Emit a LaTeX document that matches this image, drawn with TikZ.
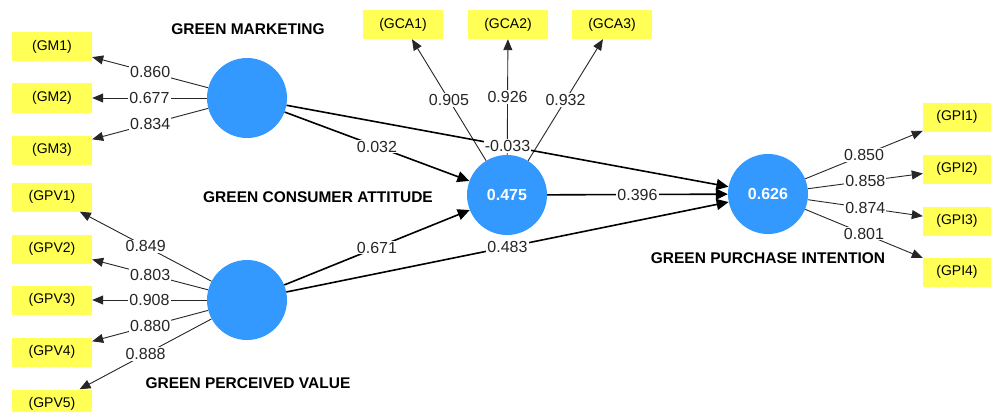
\documentclass[tikz,border=0pt]{standalone}
\usepackage{fontspec}
\setmainfont{Liberation Sans}
\usetikzlibrary{arrows.meta}
\definecolor{lvblue}{RGB}{51,153,255}
\definecolor{indyellow}{RGB}{255,255,85}
\begin{document}
\begin{tikzpicture}[x=1pt,y=-1pt,
  lv/.style={circle,fill=lvblue,minimum size=80pt,inner sep=0pt,text=white,font=\fontsize{16}{18}\selectfont\bfseries},
  ind/.style={rectangle,fill=indyellow,minimum width=80pt,minimum height=29pt,inner sep=0pt,font=\fontsize{14}{16}\selectfont},
  indr/.style={ind,minimum width=68pt},
  lvname/.style={font=\fontsize{15.5}{18}\selectfont\bfseries,inner sep=0pt},
  meas/.style={draw=black!85,line width=0.9pt,-{Triangle[length=11pt,width=9pt]}},
  struct/.style={draw=black,line width=1.6pt,-{Triangle[length=12pt,width=11pt]}},
  coef/.style={fill=white,inner sep=1pt,font=\fontsize{16}{18}\selectfont,text=black!85},
]
\clip (0,0) rectangle (991,412);
\fill[white] (0,0) rectangle (991,412);

% latent variables
\node[lv] (GM) at (247,98) {};
\node[lv] (GPV) at (247,300) {};
\node[lv] (GCA) at (507,195) {0.475};
\node[lv] (GPI) at (768,194) {0.626};

% names
\node[lvname] (nGM) at (248,29) {GREEN MARKETING};
\node[lvname] (nGCA) at (318,197) {GREEN CONSUMER ATTITUDE};
\node[lvname] (nGPV) at (248,383) {GREEN PERCEIVED VALUE};
\node[lvname] (nGPI) at (768,258) {GREEN PURCHASE INTENTION};

% indicators
\node[ind] (GM1) at (52,46.5) {(GM1)};
\node[ind] (GM2) at (52,98) {(GM2)};
\node[ind] (GM3) at (52,150) {(GM3)};
\node[ind] (GPV1) at (52,197) {(GPV1)};
\node[ind] (GPV2) at (52,249) {(GPV2)};
\node[ind] (GPV3) at (52,300) {(GPV3)};
\node[ind] (GPV4) at (52,352) {(GPV4)};
\node[ind] (GPV5) at (52,404) {(GPV5)};
\node[ind] (GCA1) at (403,24.5) {(GCA1)};
\node[ind] (GCA2) at (508,24.5) {(GCA2)};
\node[ind] (GCA3) at (612,24.5) {(GCA3)};
\node[indr] (GPI1) at (957,117) {(GPI1)};
\node[indr] (GPI2) at (957,169) {(GPI2)};
\node[indr] (GPI3) at (957,221) {(GPI3)};
\node[indr] (GPI4) at (957,272) {(GPI4)};

% outer loadings
\draw[meas] (GM) -- node[coef]{0.860} (GM1);
\draw[meas] (GM) -- node[coef]{0.677} (GM2);
\draw[meas] (GM) -- node[coef]{0.834} (GM3);
\draw[meas] (GPV) -- node[coef]{0.849} (GPV1);
\draw[meas] (GPV) -- node[coef]{0.803} (GPV2);
\draw[meas] (GPV) -- node[coef]{0.908} (GPV3);
\draw[meas] (GPV) -- node[coef]{0.880} (GPV4);
\draw[meas] (GPV) -- node[coef]{0.888} (GPV5);
\draw[meas] (GCA) -- node[coef,pos=0.5]{0.905} (GCA1);
\draw[meas] (GCA) -- node[coef,pos=0.5]{0.926} (GCA2);
\draw[meas] (GCA) -- node[coef,pos=0.5]{0.932} (GCA3);
\draw[meas] (GPI) -- node[coef]{0.850} (GPI1);
\draw[meas] (GPI) -- node[coef]{0.858} (GPI2);
\draw[meas] (GPI) -- node[coef]{0.874} (GPI3);
\draw[meas] (GPI) -- node[coef]{0.801} (GPI4);

% paths
\draw[struct] (GM) -- node[coef]{0.032} (GCA);
\draw[struct] (GM) -- node[coef]{-0.033} (GPI);
\draw[struct] (GCA) -- node[coef]{0.396} (GPI);
\draw[struct] (GPV) -- node[coef]{0.671} (GCA);
\draw[struct] (GPV) -- node[coef]{0.483} (GPI);
\end{tikzpicture}
\end{document}
